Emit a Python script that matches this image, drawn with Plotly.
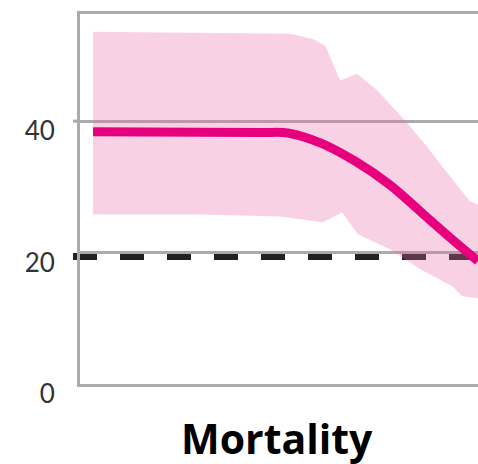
import plotly.graph_objects as go

# ---- data ----
line_x = [0, 27.8, 43.4, 50.6, 59.2, 68.1, 77.1, 85.7, 93.5, 100]
line_y = [38.4, 38.3, 38.25, 38.2, 36.65, 33.9, 30.3, 25.9, 21.9, 18.7]

upper_x = [0, 38.2, 51.2, 57.1, 60.3, 64.2, 68.6, 73.8, 77.9, 81.6, 86.8, 89.4, 97.9, 100]
upper_y = [53.6, 53.4, 53.3, 52.5, 51.5, 46.2, 47.2, 44.7, 42.1, 39.7, 36.1, 34.1, 27.8, 27.3]

lower_x = [0, 27.8, 48.6, 59.7, 64.7, 68.8, 77.1, 84.9, 93.5, 95.8, 100]
lower_y = [25.8, 25.8, 25.5, 24.6, 26.1, 22.8, 20.5, 17.5, 14.8, 13.4, 13.0]

target_value = 19.4
tick_values = [0, 20, 40]
tick_labels = ["0", "20", "40"]
title_text = "Mortality"

GRAY = "#ababab"
BAND = "rgba(232,105,165,0.3)"
MAGENTA = "#e6007e"

fig = go.Figure()

# pink uncertainty band
fig.add_trace(go.Scatter(x=lower_x, y=lower_y, mode="lines",
                         line=dict(width=0, color=BAND), hoverinfo="skip",
                         showlegend=False))
fig.add_trace(go.Scatter(x=upper_x, y=upper_y, mode="lines", fill="tonexty",
                         fillcolor=BAND, line=dict(width=0, color=BAND),
                         hoverinfo="skip", showlegend=False))
# central line
fig.add_trace(go.Scatter(x=line_x, y=line_y, mode="lines",
                         line=dict(color=MAGENTA, width=9, shape="spline", smoothing=1.0),
                         showlegend=False))

# dashed target line (below traces)
fig.add_shape(type="line", xref="paper", yref="y", x0=-0.0176, x1=1.0,
              y0=target_value, y1=target_value, layer="below",
              line=dict(color="#222222", width=7, dash="24px,23px"))
# tick stub at 40
fig.add_shape(type="line", xref="paper", yref="y", x0=-0.0176, x1=0,
              y0=40, y1=40, layer="below", line=dict(color=GRAY, width=3))

fig.add_annotation(text="<b>" + title_text + "</b>", xref="paper", yref="paper",
                   x=0.496, y=-0.147, xanchor="center", yanchor="middle",
                   showarrow=False,
                   font=dict(family="Open Sans", size=41, color="#000000"))

fig.update_layout(
    width=478, height=464,
    margin=dict(l=80, r=0, t=14, b=80),
    paper_bgcolor="white", plot_bgcolor="white",
    font=dict(family="Lato", size=26, color="#333333"),
    xaxis=dict(range=[-3.38, 100], showgrid=False, zeroline=False,
               showticklabels=False, ticks="", showline=True, mirror=True,
               linecolor=GRAY, linewidth=3),
    yaxis=dict(range=[0, 56.3], tickvals=tick_values, ticktext=tick_labels,
               showgrid=True, gridcolor=GRAY, gridwidth=3, zeroline=False,
               showline=True, linecolor=GRAY, linewidth=3, ticks="",
               ticklabelstandoff=17, ticklabelshift=10),
)

fig.write_html(
    "out.html",
    config={"displayModeBar": False},
    post_script="document.body.style.margin='0';document.body.style.overflow='hidden';",
)
